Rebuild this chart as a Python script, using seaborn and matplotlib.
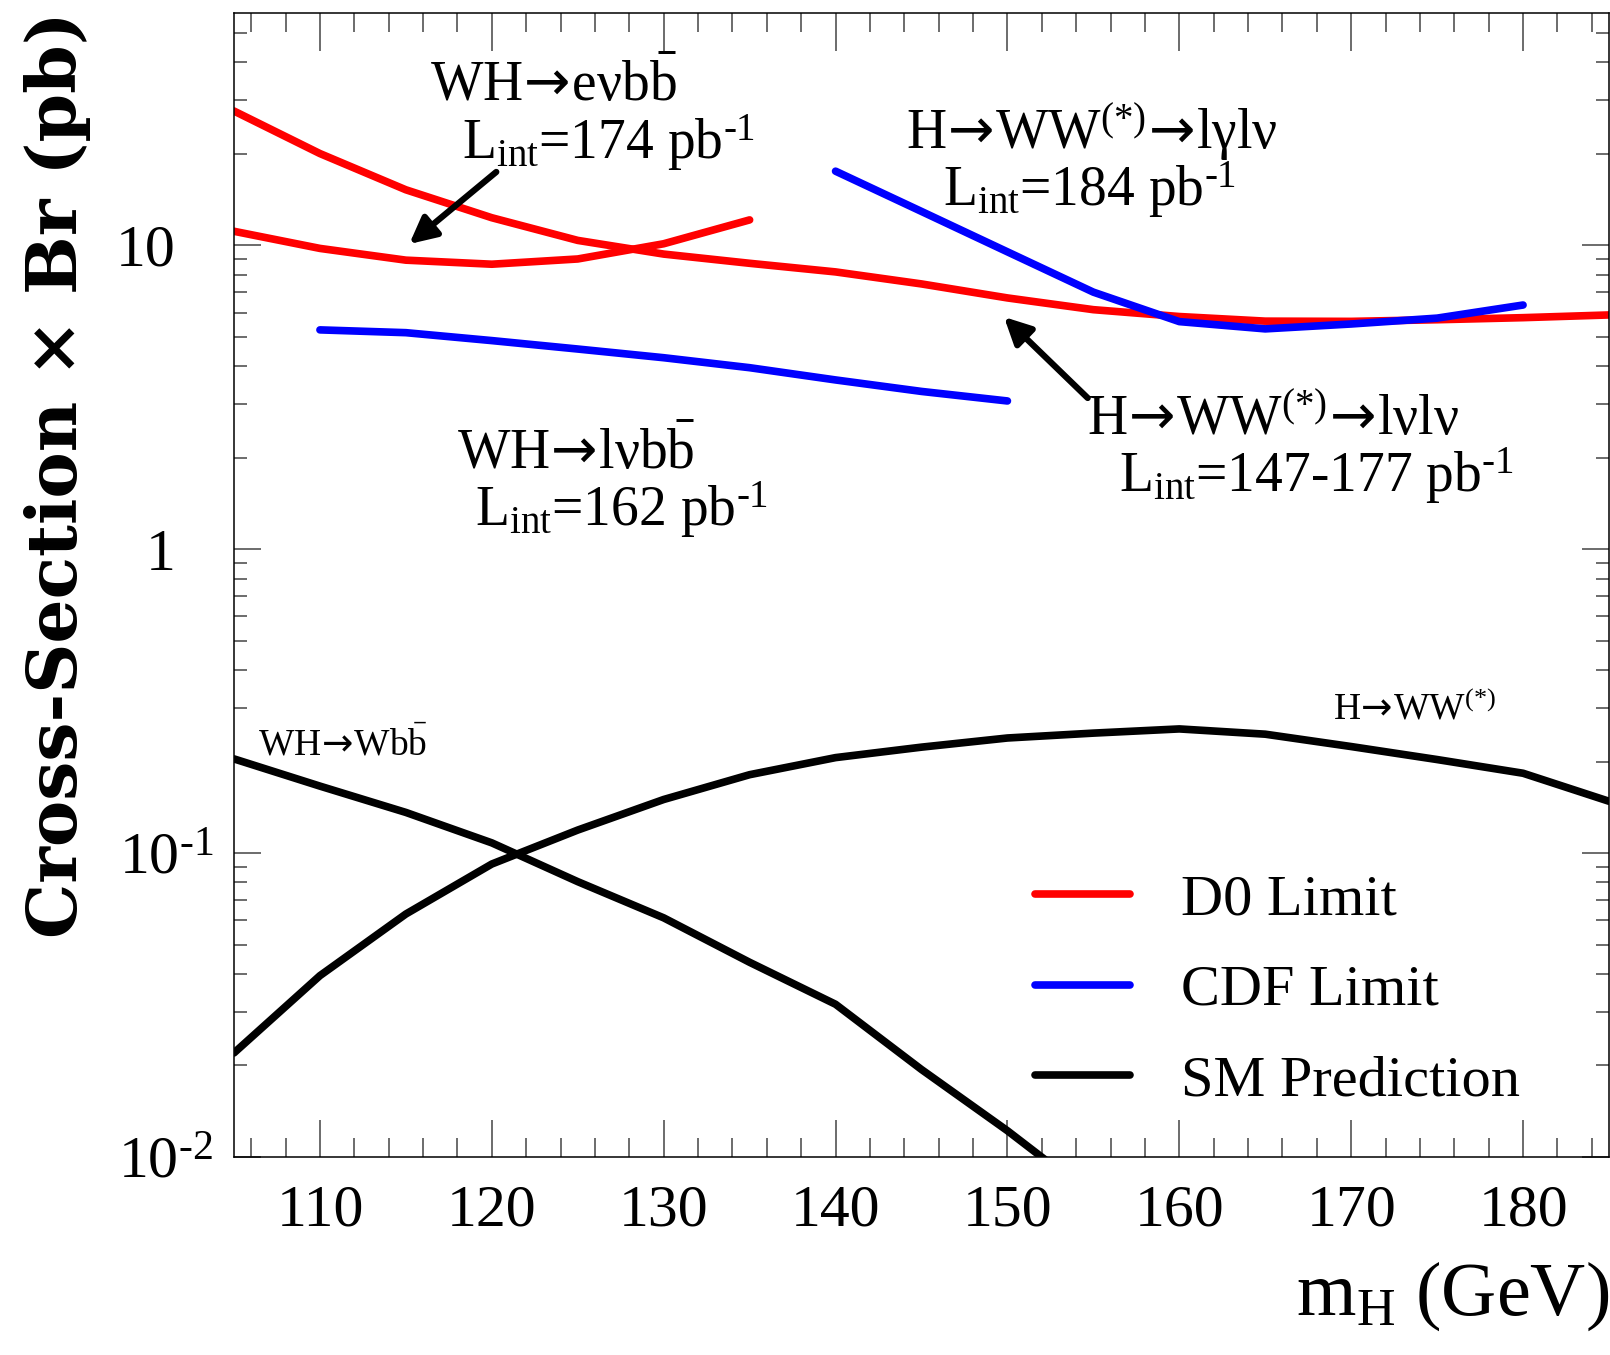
import numpy as np
import pandas as pd
import matplotlib
matplotlib.use("Agg")
import matplotlib.pyplot as plt
import seaborn as sns
from matplotlib.lines import Line2D
from matplotlib.ticker import FixedLocator, MultipleLocator, LogLocator, NullFormatter

# ---------------- data ----------------
mass_d0_ww = [105, 110, 115, 120, 125, 130, 135, 140, 145, 150, 155, 160, 165, 170, 175, 180, 185]
xs_d0_ww = [27.6, 20.0, 15.2, 12.3, 10.36, 9.34, 8.71, 8.16, 7.45, 6.7, 6.13, 5.82, 5.62, 5.61, 5.68, 5.77, 5.89]

mass_d0_wh = [105, 110, 115, 120, 125, 130, 135]
xs_d0_wh = [11.1, 9.75, 8.92, 8.65, 9.0, 10.1, 12.1]

mass_cdf_wh = [110, 115, 120, 125, 130, 135, 140, 145, 150]
xs_cdf_wh = [5.26, 5.15, 4.85, 4.55, 4.26, 3.95, 3.6, 3.3, 3.07]

mass_cdf_ww = [140, 145, 150, 155, 160, 165, 170, 175, 180]
xs_cdf_ww = [17.5, 12.9, 9.5, 7.0, 5.6, 5.3, 5.5, 5.75, 6.35]

mass_sm_wh = [105, 110, 115, 120, 125, 130, 135, 140, 145, 150, 155]
xs_sm_wh = [0.204, 0.166, 0.136, 0.108, 0.0805, 0.0612, 0.0437, 0.0318, 0.0194, 0.0122, 0.0074]

mass_sm_ww = [105, 110, 115, 120, 125, 130, 135, 140, 145, 150, 155, 160, 165, 170, 175, 180, 185]
xs_sm_ww = [0.022, 0.0395, 0.063, 0.092, 0.119, 0.150, 0.181, 0.206, 0.223, 0.239, 0.248, 0.256,
            0.246, 0.224, 0.203, 0.183, 0.148]

legend_labels = ["D0 Limit", "CDF Limit", "SM Prediction"]
line_colors = {"D0 Limit": "#ff0000", "CDF Limit": "#0000ff", "SM Prediction": "#000000"}

x_ticks = [110, 120, 130, 140, 150, 160, 170, 180]
y_ticks = [0.01, 0.1, 1, 10]
y_ticklabels = [r"$10^{\text{-2}}$", r"$10^{\text{-1}}$", "1", "10"]

# ---------------- long table ----------------
frames = []
for name, src, m, v in [
    ("d0_ww", "D0 Limit", mass_d0_ww, xs_d0_ww),
    ("d0_wh", "D0 Limit", mass_d0_wh, xs_d0_wh),
    ("cdf_wh", "CDF Limit", mass_cdf_wh, xs_cdf_wh),
    ("cdf_ww", "CDF Limit", mass_cdf_ww, xs_cdf_ww),
    ("sm_wh", "SM Prediction", mass_sm_wh, xs_sm_wh),
    ("sm_ww", "SM Prediction", mass_sm_ww, xs_sm_ww),
]:
    frames.append(pd.DataFrame({"mH": m, "xsec": v, "curve": name, "source": src}))
df = pd.concat(frames, ignore_index=True)

# ---------------- style ----------------
sns.set_theme(style="white")
plt.rcParams["font.family"] = ["Liberation Serif", "DejaVu Serif"]
plt.rcParams["mathtext.fontset"] = "custom"
plt.rcParams["mathtext.rm"] = "Liberation Serif"
plt.rcParams["mathtext.it"] = "Liberation Serif:italic"
plt.rcParams["mathtext.bf"] = "Liberation Serif:bold"
plt.rcParams["mathtext.sf"] = "DejaVu Sans"
for k in ["text.color", "axes.labelcolor", "xtick.labelcolor", "ytick.labelcolor"]:
    plt.rcParams[k] = "black"

W, H = 1610, 1355
fig = plt.figure(figsize=(W / 100, H / 100), dpi=100)
ax = fig.add_axes([234 / W, (H - 1157) / H, (1609 - 234) / W, (1157 - 13) / H])

LW = 5.5
sns.lineplot(data=df, x="mH", y="xsec", hue="source", units="curve", estimator=None,
             sort=False, palette=line_colors, linewidth=LW, legend=False, ax=ax,
             solid_capstyle="round")

ax.set_yscale("log")
ax.set_xlim(105, 185)
ax.set_ylim(0.01, 58)

# ticks (ROOT style: inside, on all sides)
ax.xaxis.set_major_locator(FixedLocator(x_ticks))
ax.xaxis.set_minor_locator(MultipleLocator(2))
ax.set_xticks(x_ticks, labels=[str(t) for t in x_ticks])
ax.set_yticks(y_ticks, labels=y_ticklabels)
ax.yaxis.set_minor_locator(LogLocator(base=10, subs=np.arange(2, 10)))
ax.yaxis.set_minor_formatter(NullFormatter())

tick_col = "#444444"
ax.tick_params(axis="x", which="major", direction="in", length=27, width=1.1, color=tick_col,
               top=True, bottom=True, labelsize=43, pad=20, labelcolor="black")
ax.tick_params(axis="x", which="minor", direction="in", length=13.5, width=1.1, color=tick_col,
               top=True, bottom=True)
ax.tick_params(axis="y", which="major", direction="in", length=19.5, width=1.1, color=tick_col,
               left=True, right=True, labelsize=43, pad=15, labelcolor="black")
ax.tick_params(axis="y", which="minor", direction="in", length=9.7, width=1.1, color=tick_col,
               left=True, right=True)
for tk, val in zip(ax.yaxis.get_major_ticks(), y_ticks):
    if val >= 1:
        tk.set_pad(42)

for s in ax.spines.values():
    s.set_color("black")
    s.set_linewidth(1.1)

# axis labels
ax.set_ylabel("Cross-Section × Br (pb)", fontsize=50, fontweight="bold", family="DejaVu Serif")
ax.yaxis.set_label_coords(-0.104, 0.596)
ax.set_xlabel(r"m$_{\rm H}$ (GeV)", fontsize=55, loc="right")
ax.xaxis.set_label_coords(1.0, -0.09)

# annotations
AR = r"$\!\mathsf{\rightarrow}\!$"
big = 40
ax.text(123.6, 29.7, "WH" + AR + r"eνb$\bar{\rm b}$", fontsize=big, ha="center", va="baseline")
ax.text(126.8, 19.2, r"L$_{\rm int}$=174 pb$^{\text{-1}}$", fontsize=big, ha="center", va="baseline")
ax.text(154.9, 20.7, "H" + AR + r"WW$^{\rm (*)}$" + AR + "lγlν", fontsize=big, ha="center", va="baseline")
ax.text(154.8, 13.4, r"L$_{\rm int}$=184 pb$^{\text{-1}}$", fontsize=big, ha="center", va="baseline")
ax.text(124.9, 1.84, "WH" + AR + r"lνb$\bar{\rm b}$", fontsize=big, ha="center", va="baseline")
ax.text(127.55, 1.19, r"L$_{\rm int}$=162 pb$^{\text{-1}}$", fontsize=big, ha="center", va="baseline")
ax.text(165.45, 2.38, "H" + AR + r"WW$^{\rm (*)}$" + AR + "lνlν", fontsize=big, ha="center", va="baseline")
ax.text(167.96, 1.54, r"L$_{\rm int}$=147-177 pb$^{\text{-1}}$", fontsize=big, ha="center", va="baseline")
ax.text(111.3, 0.210, "WH" + AR + r"Wb$\bar{\rm b}$", fontsize=27, ha="center", va="baseline")
ax.text(173.7, 0.275, "H" + AR + r"WW$^{\rm (*)}$", fontsize=27, ha="center", va="baseline")

arrow_kw = dict(arrowstyle="-|>", color="black", lw=4.5, mutation_scale=40,
                shrinkA=0, shrinkB=0, capstyle="round")
ax.annotate("", xy=(115.2, 10.08), xytext=(120.26, 17.4), arrowprops=arrow_kw)
ax.annotate("", xy=(149.8, 5.8), xytext=(154.67, 3.14), arrowprops=arrow_kw)

# legend
handles = [Line2D([0], [0], color=line_colors[l], lw=LW, solid_capstyle="round") for l in legend_labels]
ax.legend(handles, legend_labels, loc="center left", bbox_to_anchor=(1035 / W, 1 - 990.5 / H),
          bbox_transform=fig.transFigure, frameon=False, fontsize=42, handlelength=1.63,
          handletextpad=0.87, labelspacing=0.65, borderpad=0, borderaxespad=0)

fig.savefig("out.png", dpi=100)
